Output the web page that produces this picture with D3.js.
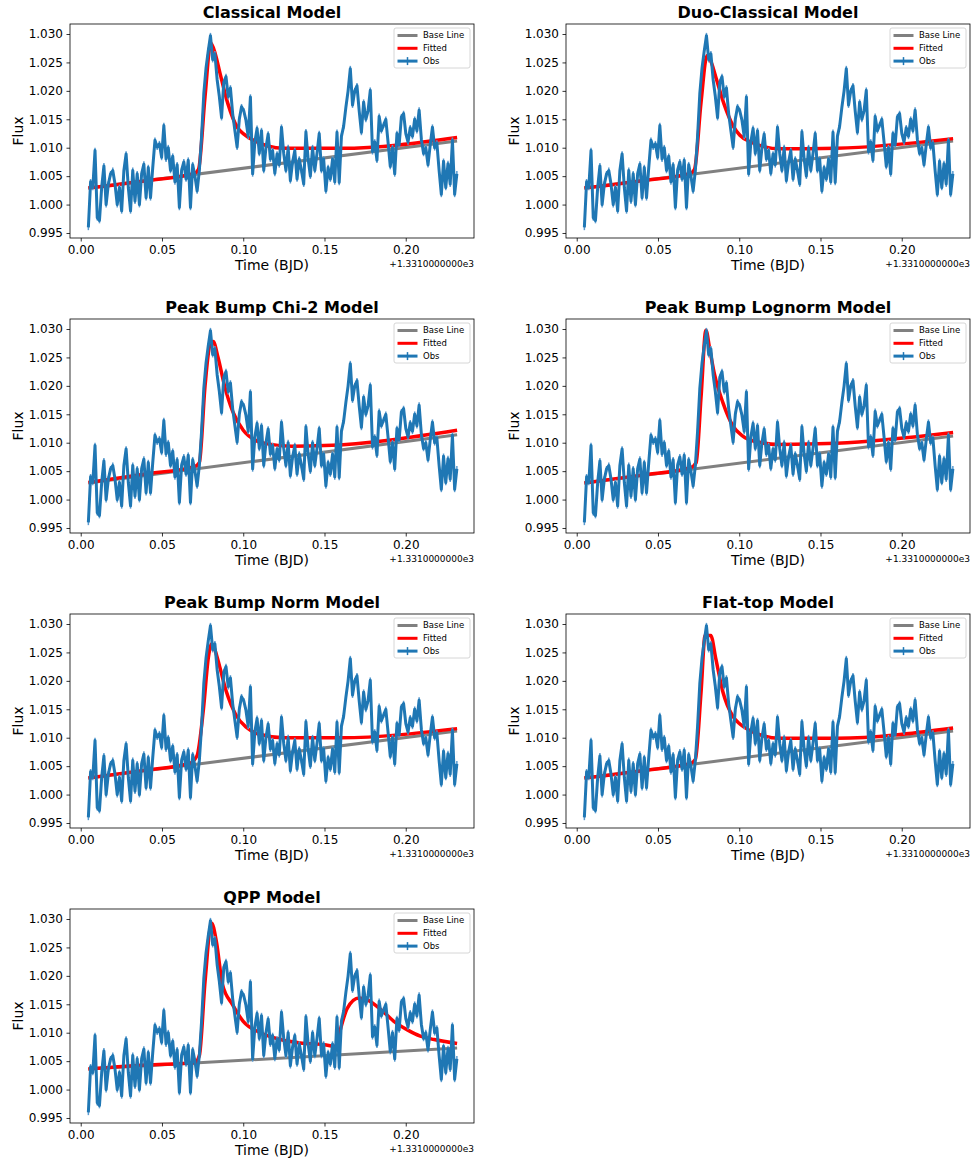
<!DOCTYPE html>
<html><head><meta charset="utf-8">
<script src="https://cdn.jsdelivr.net/npm/d3@7"></script>
<style>body{margin:0;background:#fff;} svg{display:block;font-family:"DejaVu Sans",sans-serif;}</style>
</head><body><svg id="c" width="972" height="1162"></svg>
<script>
// ---------- DATA ----------
const titles = ["Classical Model","Duo-Classical Model","Peak Bump Chi-2 Model","Peak Bump Lognorm Model","Peak Bump Norm Model","Flat-top Model","QPP Model"];
const xTicks = [0.00,0.05,0.10,0.15,0.20];
const yTicks = [0.995,1.000,1.005,1.010,1.015,1.020,1.025,1.030];
const offsetLabel = "+1.3310000000e3";
const legendLabels = ["Base Line","Fitted","Obs"];
// observation cadence (days, relative to 1331.0)
const obsStart = 0.0047, obsStep = 0.001366;
const obsErr = 0.0005;
const obsFlux = [
0.9960,1.0040,1.0030,1.0095,0.9977,0.9972,1.0030,1.0068,1.0000,1.0036,
1.0054,1.0060,1.0036,1.0000,1.0030,0.9989,1.0060,1.0089,1.0030,0.9989,
1.0060,1.0006,1.0054,1.0000,1.0054,1.0071,1.0012,1.0065,1.0012,1.0065,
1.0113,1.0101,1.0107,1.0083,1.0139,1.0080,1.0100,1.0060,1.0085,1.0040,
1.0070,0.9995,1.0060,1.0075,1.0045,1.0078,0.9995,1.0070,1.0050,1.0024,
1.0060,1.0120,1.0195,1.0240,1.0270,1.0297,1.0255,1.0265,1.0220,1.0190,
1.0153,1.0215,1.0225,1.0190,1.0205,1.0160,1.0130,1.0101,1.0150,1.0172,
1.0165,1.0148,1.0120,1.0189,1.0054,1.0110,1.0134,1.0090,1.0130,1.0060,
1.0100,1.0124,1.0080,1.0095,1.0055,1.0089,1.0070,1.0136,1.0090,1.0060,
1.0100,1.0042,1.0075,1.0095,1.0045,1.0080,1.0060,1.0036,1.0128,1.0080,
1.0050,1.0100,1.0060,1.0090,1.0125,1.0060,1.0080,1.0024,1.0065,1.0045,
1.0080,1.0040,1.0127,1.0039,1.0120,1.0138,1.0171,1.0200,1.0239,1.0175,
1.0200,1.0209,1.0165,1.0127,1.0180,1.0150,1.0165,1.0201,1.0093,1.0110,
1.0078,1.0155,1.0130,1.0140,1.0150,1.0110,1.0067,1.0100,1.0054,1.0125,
1.0105,1.0154,1.0160,1.0125,1.0110,1.0135,1.0120,1.0150,1.0130,1.0166,
1.0115,1.0090,1.0100,1.0070,1.0105,1.0136,1.0100,1.0108,1.0060,1.0018,
1.0076,1.0030,1.0072,1.0036,1.0113,1.0018,1.0054
];
// baseline end points per model
const baseT = [0.0047, 0.2316];
const baseClassical = [1.0029, 1.0112];
const baseDuo = [1.0029, 1.0112];
const baseChi2 = [1.0029, 1.0114];
const baseLognorm = [1.0029, 1.0112];
const baseNorm = [1.0029, 1.0112];
const baseFlat = [1.0029, 1.0112];
const baseQPP = [1.0036, 1.0073];
// fitted model samples
const fitClassicalT = [0.0047,0.040,0.070,0.0725,0.0765,0.0800,0.0828,0.0858,0.0905,0.0963,0.1004,0.1070,0.1150,0.1250,0.1600,0.2316];
const fitClassical  = [1.0029,1.0042,1.0055,1.0062,1.0190,1.0284,1.0265,1.0230,1.0178,1.0136,1.0124,1.0112,1.0103,1.0099,1.0099,1.0118];
const fitDuoT = [0.0047,0.040,0.070,0.0725,0.0765,0.0802,0.0828,0.0858,0.0905,0.0963,0.1004,0.1070,0.1150,0.1250,0.1600,0.2316];
const fitDuo  = [1.0029,1.0042,1.0055,1.0062,1.0180,1.0262,1.0250,1.0222,1.0178,1.0138,1.0122,1.0110,1.0102,1.0098,1.0099,1.0116];
const fitChi2T = [0.0047,0.040,0.070,0.0730,0.0765,0.0795,0.0815,0.0845,0.0885,0.0935,0.1000,0.1070,0.1150,0.1300,0.1500,0.2316];
const fitChi2  = [1.0030,1.0045,1.0058,1.0065,1.0200,1.0272,1.0278,1.0250,1.0200,1.0155,1.0122,1.0105,1.0098,1.0094,1.0095,1.0122];
const fitLognormT = [0.0047,0.040,0.070,0.0735,0.0765,0.0795,0.0818,0.0848,0.0900,0.0960,0.1020,0.1100,0.1250,0.1600,0.2316];
const fitLognorm  = [1.0029,1.0043,1.0056,1.0065,1.0180,1.0298,1.0265,1.0220,1.0170,1.0130,1.0112,1.0102,1.0097,1.0099,1.0118];
const fitNormT = [0.0047,0.040,0.067,0.0715,0.0755,0.0785,0.0805,0.0825,0.0855,0.0895,0.0955,0.1020,0.1100,0.1250,0.1600,0.2316];
const fitNorm  = [1.0029,1.0043,1.0055,1.0068,1.0150,1.0240,1.0265,1.0255,1.0225,1.0182,1.0140,1.0118,1.0106,1.0100,1.0100,1.0116];
const fitFlatT = [0.0047,0.040,0.070,0.0730,0.0765,0.0790,0.0825,0.0855,0.0900,0.0960,0.1004,0.1070,0.1150,0.1250,0.1600,0.2316];
const fitFlat  = [1.0029,1.0042,1.0055,1.0062,1.0180,1.0280,1.0280,1.0240,1.0180,1.0138,1.0124,1.0112,1.0103,1.0099,1.0099,1.0117];
const fitQPPT = [0.0047,0.040,0.070,0.0730,0.0765,0.0805,0.0835,0.0872,0.0935,0.1000,0.1105,0.1230,0.1350,0.1500,0.1568,0.1600,0.1640,0.1712,0.1760,0.1845,0.1927,0.2010,0.2090,0.2175,0.2316];
const fitQPP  = [1.0036,1.0043,1.0047,1.0060,1.0190,1.0293,1.0260,1.0185,1.0149,1.0120,1.0100,1.0088,1.0082,1.0079,1.0076,1.0108,1.0143,1.0161,1.0158,1.0141,1.0120,1.0105,1.0094,1.0088,1.0081];

const panels = [
  {title:titles[0], base:baseClassical, fitT:fitClassicalT, fit:fitClassical},
  {title:titles[1], base:baseDuo, fitT:fitDuoT, fit:fitDuo},
  {title:titles[2], base:baseChi2, fitT:fitChi2T, fit:fitChi2},
  {title:titles[3], base:baseLognorm, fitT:fitLognormT, fit:fitLognorm},
  {title:titles[4], base:baseNorm, fitT:fitNormT, fit:fitNorm},
  {title:titles[5], base:baseFlat, fitT:fitFlatT, fit:fitFlat},
  {title:titles[6], base:baseQPP, fitT:fitQPPT, fit:fitQPP}
];

// ---------- LAYOUT ----------
const colX = [70, 566], rowY = [24, 319, 614, 909];
const W = 404, H = 214;
const BLUE = "#1f77b4", RED = "#ff0000", GRAY = "#808080";
const svg = d3.select("#c");
const obs = obsFlux.map((v,i)=>({t: obsStart + i*obsStep, f: v}));

panels.forEach((p, k) => {
  const ox = colX[k%2], oy = rowY[Math.floor(k/2)];
  const g = svg.append("g").attr("transform", `translate(${ox},${oy})`);
  const x = d3.scaleLinear().domain([-0.0066, 0.2420]).range([0, W]);
  const y = d3.scaleLinear().domain([0.99412, 1.03176]).range([H, 0]);

  const clipId = "clip"+k;
  g.append("clipPath").attr("id", clipId).append("rect").attr("width", W).attr("height", H);
  const plot = g.append("g").attr("clip-path", `url(#${clipId})`);

  const line = d3.line().x(d=>x(d[0])).y(d=>y(d[1]));
  // baseline
  plot.append("path").datum(baseT.map((t,i)=>[t, p.base[i]]))
    .attr("d", line).attr("fill","none").attr("stroke",GRAY).attr("stroke-width",3);
  // fitted
  plot.append("path").datum(p.fitT.map((t,i)=>[t, p.fit[i]]))
    .attr("d", d3.line().x(d=>x(d[0])).y(d=>y(d[1])).curve(d3.curveMonotoneX))
    .attr("fill","none").attr("stroke",RED).attr("stroke-width",3.5);
  // obs error bars
  plot.append("g").selectAll("line").data(obs).join("line")
    .attr("x1",d=>x(d.t)).attr("x2",d=>x(d.t))
    .attr("y1",d=>y(d.f-obsErr)).attr("y2",d=>y(d.f+obsErr))
    .attr("stroke","#5a9bd0").attr("stroke-width",1.5);
  // obs line
  plot.append("path").datum(obs.map(d=>[d.t,d.f]))
    .attr("d", line).attr("fill","none").attr("stroke",BLUE).attr("stroke-width",3)
    .attr("stroke-linejoin","round");

  // axes
  const xa = g.append("g").attr("transform",`translate(0,${H})`)
    .call(d3.axisBottom(x).tickValues(xTicks).tickFormat(d3.format(".2f")).tickSize(3.5).tickPadding(3.5));
  const ya = g.append("g")
    .call(d3.axisLeft(y).tickValues(yTicks).tickFormat(d3.format(".3f")).tickSize(3.5).tickPadding(3.5));
  [xa, ya].forEach(a => {
    a.select(".domain").remove();
    a.selectAll("text").attr("font-size", 12).attr("fill","#000").attr("font-family","DejaVu Sans");
    a.selectAll("line").attr("stroke","#000").attr("stroke-width",0.8);
  });
  g.append("rect").attr("width",W).attr("height",H).attr("fill","none").attr("stroke","#000").attr("stroke-width",0.8);

  // labels
  g.append("text").attr("x", W/2).attr("y", -6).attr("text-anchor","middle")
    .attr("font-size",16).attr("font-weight","bold").text(p.title);
  g.append("text").attr("x", W/2).attr("y", 32).attr("transform",`translate(0,${H})`)
    .attr("text-anchor","middle").attr("font-size",14).text("Time (BJD)");
  g.append("text").attr("x", W).attr("y", H+29).attr("text-anchor","end")
    .attr("font-size",9).text(offsetLabel);
  g.append("text").attr("transform",`translate(-47,${H/2}) rotate(-90)`)
    .attr("text-anchor","middle").attr("font-size",14).text("Flux");

  // legend
  const lg = g.append("g").attr("transform",`translate(${W-80},4)`);
  lg.append("rect").attr("width",76).attr("height",40).attr("rx",2)
    .attr("fill","#fff").attr("fill-opacity",0.8).attr("stroke","#cccccc").attr("stroke-width",0.8);
  const cols = [GRAY, RED, BLUE];
  legendLabels.forEach((lab,i) => {
    const yy = 7.5 + i*12.8;
    lg.append("line").attr("x1",3.5).attr("x2",23.5).attr("y1",yy).attr("y2",yy)
      .attr("stroke",cols[i]).attr("stroke-width",3);
    if (i===2) lg.append("line").attr("x1",13.5).attr("x2",13.5).attr("y1",yy-4).attr("y2",yy+4)
      .attr("stroke",BLUE).attr("stroke-width",1.5);
    lg.append("text").attr("x",29).attr("y",yy).attr("dy","0.35em").attr("font-size",8.5).text(lab);
  });
});
</script></body></html>
